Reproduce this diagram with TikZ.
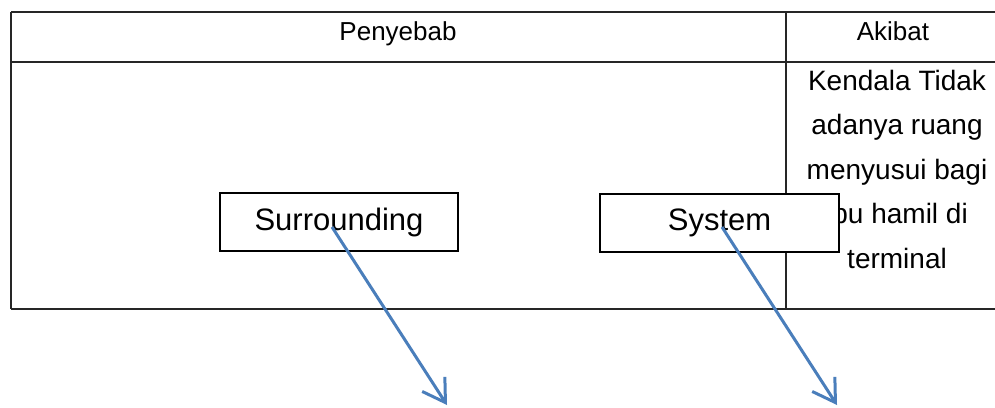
\documentclass[tikz,border=0pt]{standalone}
\usepackage{fontspec}
\setmainfont{Liberation Sans}
\usetikzlibrary{arrows.meta}
\definecolor{arrowblue}{HTML}{4A7EBB}
\begin{document}
\begin{tikzpicture}[x=1pt,y=-1pt,
  rule/.style={line width=1.4pt, draw=black!85},
  box/.style={draw=black, line width=2.2pt, fill=white, minimum width=238pt, minimum height=58pt, inner sep=0pt, font=\fontsize{31}{36}\selectfont},
  cell/.style={inner sep=0pt, anchor=base, font=\fontsize{28}{34}\selectfont},
  head/.style={inner sep=0pt, anchor=base, font=\fontsize{26}{30}\selectfont},
  link/.style={draw=arrowblue, line width=3pt, -{Straight Barb[length=22pt,width=27pt,line width=3pt]}}]
\useasboundingbox (0,0) rectangle (995,407);
% table
\draw[rule] (11,12) -- (995,12);
\draw[rule] (11,62) -- (995,62);
\draw[rule] (11,309) -- (995,309);
\draw[rule] (11,12) -- (11,309);
\draw[rule] (786,12) -- (786,309);
% headers
\node[head] (penyebab) at (398,40) {Penyebab};
\node[head] (akibat) at (893,40) {Akibat};
% effect text
\node[cell] (l1) at (897,90) {Kendala Tidak};
\node[cell] (l2) at (897,134.5) {adanya ruang};
\node[cell] (l3) at (897,179) {menyusui bagi};
\node[cell] (l4) at (897,223.5) {ibu hamil di};
\node[cell] (l5) at (897,268) {terminal};
% boxes
\node[box] (sur) at (339,222) {Surrounding};
\node[box, minimum width=239pt] (sys) at (719.5,223) {System};
% arrows
\coordinate (s1) at (332,227);
\coordinate (s2) at (447,405);
\coordinate (t1) at (722,227);
\coordinate (t2) at (837,405);
\draw[link] (s1) -- (s2);
\draw[link] (t1) -- (t2);
\end{tikzpicture}
\end{document}
